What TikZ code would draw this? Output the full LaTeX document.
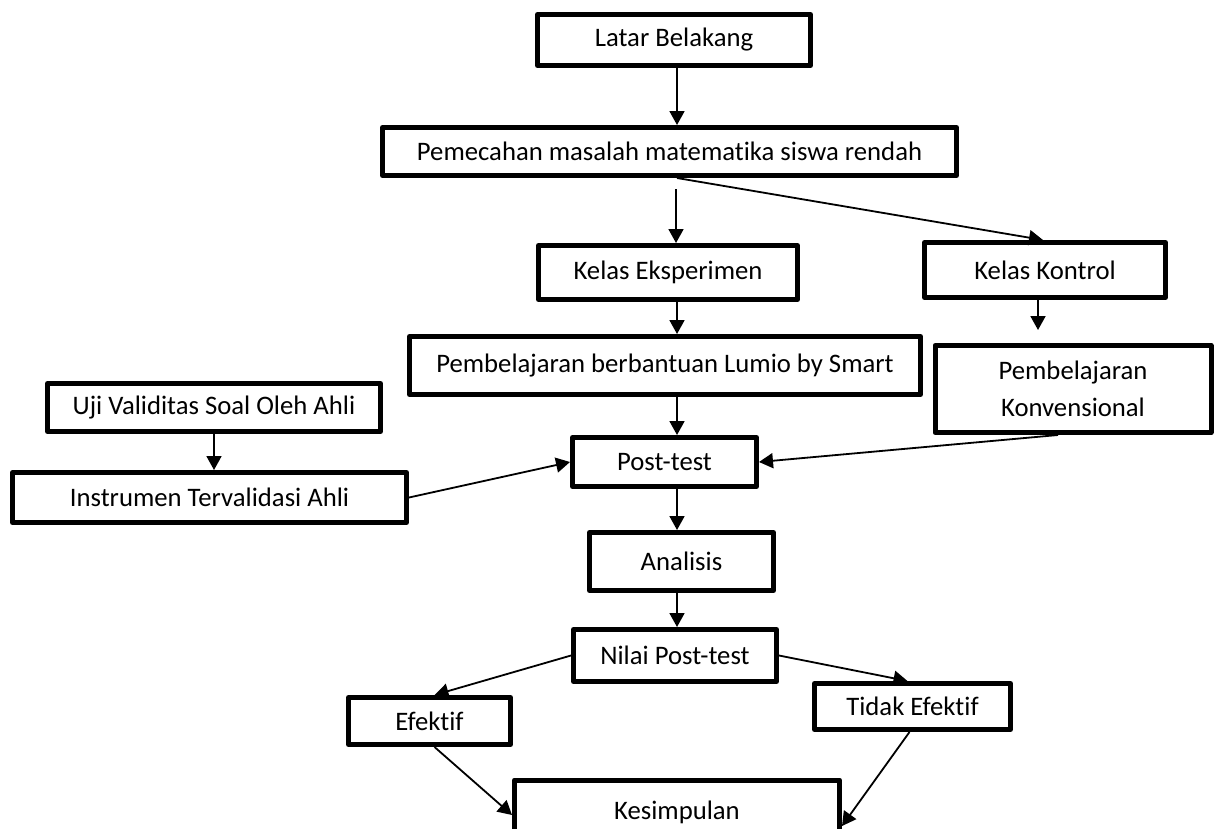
\documentclass[tikz,border=0pt]{standalone}
\usepackage{fontspec}
\setmainfont{Carlito}[Ligatures={CommonOff,ContextualOff}]
\usetikzlibrary{arrows.meta}
\begin{document}
\begin{tikzpicture}[x=1pt,y=-1pt,
  box/.style={draw, line width=5pt, line join=round, inner sep=0pt, align=center,
    font=\fontsize{26.7}{37}\selectfont},
  conn/.style={line width=1.8pt, -{Triangle[length=14pt,width=15pt]}}]
\useasboundingbox (0,0) rectangle (1215,828);
\node[box, minimum width=273pt, minimum height=51pt] (lat) at (674,40) {Latar Belakang};
\node[box, minimum width=574pt, minimum height=48pt] (pem) at (669.5,151.5) {Pemecahan masalah matematika siswa rendah};
\node[box, minimum width=259pt, minimum height=54pt] (ke) at (668,272.5) {Kelas Eksperimen};
\node[box, minimum width=241pt, minimum height=55pt] (kk) at (1045,270) {Kelas Kontrol};
\node[box, minimum width=511pt, minimum height=58pt] (lum) at (665,365.5) {Pembelajaran berbantuan Lumio by Smart};
\node[box, minimum width=276pt, minimum height=87pt] (konv) at (1073,389) {Pembelajaran\\Konvensional};
\node[box, minimum width=333pt, minimum height=48pt] (uji) at (214,407.5) {Uji Validitas Soal Oleh Ahli};
\node[box, minimum width=394pt, minimum height=50pt] (ins) at (209.5,497.5) {Instrumen Tervalidasi Ahli};
\node[box, minimum width=184pt, minimum height=49pt] (post) at (664.5,462) {Post-test};
\node[box, minimum width=184pt, minimum height=58pt] (ana) at (681.5,561.5) {Analisis};
\node[box, minimum width=203pt, minimum height=52pt] (nil) at (675,655.5) {Nilai Post-test};
\node[box, minimum width=162pt, minimum height=47pt] (eff) at (429.5,721) {Efektif};
\node[box, minimum width=196pt, minimum height=46pt] (te) at (912.5,706.5) {Tidak Efektif};
\node[box, minimum width=325pt, minimum height=64pt] (kes) at (677,812) {Kesimpulan};
\coordinate (sp) at (677,0);
\coordinate (pk) at (676,189);
\coordinate (kc) at (1038,330);
\draw[conn] (lat.south -| sp) -- (pem.north -| sp);
\draw[conn] (pk) -- (pk |- ke.north);
\draw[conn] (pem.south -| sp) -- ([xshift=-2pt]kk.north);
\draw[conn] (ke.south -| sp) -- (lum.north -| sp);
\draw[conn] (kk.south -| kc) -- (kc);
\draw[conn] (lum.south -| sp) -- (post.north -| sp);
\draw[conn] (uji.south) -- (uji.south |- ins.north);
\draw[conn] (ins.east) -- (post.west);
\draw[conn] ([xshift=-15pt]konv.south) -- (post.east);
\draw[conn] (post.south -| sp) -- (ana.north -| sp);
\draw[conn] (ana.south -| sp) -- (nil.north -| sp);
\draw[conn] (nil.west) -- ([xshift=5pt]eff.north);
\draw[conn] (nil.east) -- ([xshift=-5pt]te.north);
\draw[conn] ([xshift=5pt]eff.south) -- ([yshift=-3pt]kes.west);
\draw[conn] ([xshift=-3pt]te.south) -- ([yshift=-14pt]kes.east);
\end{tikzpicture}
\end{document}
